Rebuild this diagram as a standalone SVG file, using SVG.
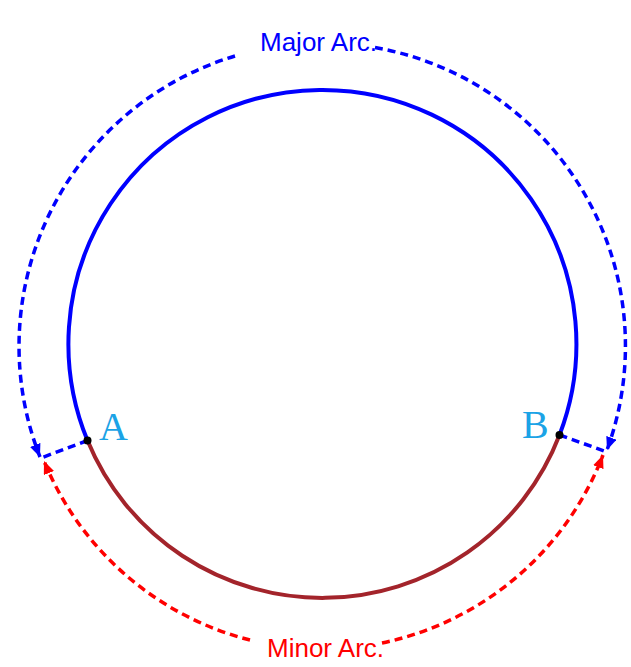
<svg xmlns="http://www.w3.org/2000/svg" width="631" height="667" viewBox="0 0 631 667">
  <style>
    .dashB { fill: none; stroke: #0000ff; stroke-width: 3.5; stroke-dasharray: 8 5; }
    .dashR { fill: none; stroke: #ff0000; stroke-width: 3.5; stroke-dasharray: 8 5; }
    .pt { fill: #000; }
    .ptlabel { font-family: "Liberation Serif", "Times New Roman", serif; font-size: 40px; fill: #1ba3e6; }
    .arclabel { font-family: "Liberation Sans", Arial, sans-serif; font-size: 26px; }
  </style>
  <defs>
    <marker id="arrB" markerUnits="userSpaceOnUse" markerWidth="15" markerHeight="11" refX="13" refY="5.5" orient="auto">
      <path d="M0,0 L13,5.5 L0,11 Z" fill="#0000ff"/>
    </marker>
    <marker id="arrR" markerUnits="userSpaceOnUse" markerWidth="15" markerHeight="11" refX="13" refY="5.5" orient="auto">
      <path d="M0,0 L13,5.5 L0,11 Z" fill="#ff0000"/>
    </marker>
  </defs>
  <rect width="631" height="667" fill="#ffffff"/>

  <g id="circle">
    <path d="M 87.5 440.5 A 254 254 0 1 1 559.5 435" fill="none" stroke="#0000ff" stroke-width="4"/>
    <path d="M 87.5 440.5 A 254 254 0 0 0 559.5 435" fill="none" stroke="#a3242b" stroke-width="4"/>
  </g>

  <g id="connectors">
    <path class="dashB" d="M 87.5 440.5 L 41 458"/>
    <path class="dashB" d="M 559.5 435 L 607 452"/>
    <path class="dashB" d="M 235 56 A 303 303 0 0 0 40 457" marker-end="url(#arrB)"/>
    <path class="dashB" d="M 375 47.5 A 303 303 0 0 1 607 450" marker-end="url(#arrB)"/>
    <path class="dashR" d="M 250 640 A 303 303 0 0 1 44 461" marker-end="url(#arrR)"/>
    <path class="dashR" d="M 382 643 A 303 303 0 0 0 603 455" marker-end="url(#arrR)"/>
  </g>

  <g id="pointA">
    <circle class="pt" cx="87.5" cy="440.5" r="4"/>
    <text class="ptlabel" x="99" y="440">A</text>
  </g>
  <g id="pointB">
    <circle class="pt" cx="559.5" cy="435" r="4"/>
    <text class="ptlabel" x="522" y="438">B</text>
  </g>

  <g id="majorLabel">
    <text class="arclabel" x="260" y="51" fill="#0000ff">Major Arc.</text>
  </g>
  <g id="minorLabel">
    <text class="arclabel" x="267" y="657" fill="#ff0000">Minor Arc.</text>
  </g>
</svg>
